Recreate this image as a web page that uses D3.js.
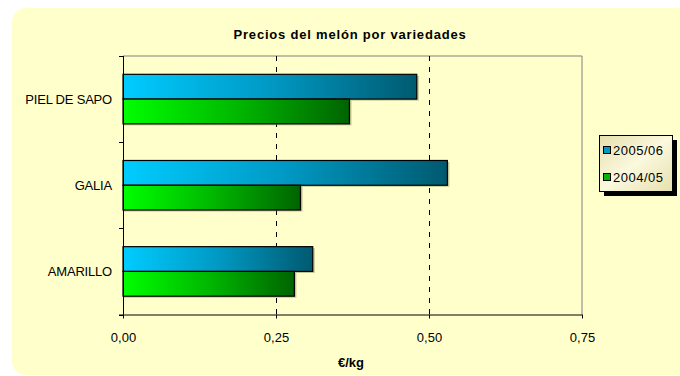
<!DOCTYPE html>
<html>
<head>
<meta charset="utf-8">
<script src="https://cdn.jsdelivr.net/npm/d3@7"></script>
<style>
  html, body { margin: 0; padding: 0; background: #ffffff; }
  svg { display: block; font-family: "Liberation Sans", Arial, sans-serif; }
</style>
</head>
<body>
<svg id="chart" width="680" height="376"></svg>
<script>
// Melon prices by variety, €/kg
const categories = ["PIEL DE SAPO", "GALIA", "AMARILLO"];
const seriesNames = ["2005/06", "2004/05"];
const values2005 = [0.48, 0.53, 0.31];
const values2004 = [0.37, 0.29, 0.28];
const xTicks = [0, 0.25, 0.5, 0.75];
const titleText = "Precios del melón por variedades";
const axisTitle = "€/kg";

const seriesValues = [values2005, values2004];

const svg = d3.select("#chart");
const defs = svg.append("defs");

// gradients per series: bright at base, dark at bar end
const gradStops = [
  ["#00ccff", "#0099c4", "#005a70"],
  ["#00ff00", "#00b800", "#006400"]
];
gradStops.forEach((stops, i) => {
  const g = defs.append("linearGradient")
    .attr("id", "grad" + i)
    .attr("x1", "0%").attr("x2", "100%").attr("y1", "0%").attr("y2", "0%");
  g.append("stop").attr("offset", "0%").attr("stop-color", stops[0]);
  g.append("stop").attr("offset", "50%").attr("stop-color", stops[1]);
  g.append("stop").attr("offset", "100%").attr("stop-color", stops[2]);
});
const lg = defs.append("linearGradient")
  .attr("id", "legendGrad")
  .attr("x1", "0%").attr("x2", "100%").attr("y1", "0%").attr("y2", "100%");
lg.append("stop").attr("offset", "0%").attr("stop-color", "#e6dfae");
lg.append("stop").attr("offset", "50%").attr("stop-color", "#fbf9de");
lg.append("stop").attr("offset", "100%").attr("stop-color", "#e6dfae");

// chart background
svg.append("rect")
  .attr("x", 12).attr("y", 8)
  .attr("width", 690).attr("height", 367)
  .attr("rx", 14).attr("ry", 14)
  .attr("fill", "#ffffcc");

const plot = { left: 123, right: 582, top: 56, bottom: 314.5 };

const x = d3.scaleLinear().domain([0, 0.75]).range([plot.left, plot.right]);
const y = d3.scaleBand().domain(categories).range([plot.top, plot.bottom]).paddingInner(0).paddingOuter(0);
const inner = d3.scaleBand().domain(seriesNames).range([0, y.bandwidth()]).paddingInner(0).paddingOuter(0.74);

// plot frame: grey top/right edges
svg.append("path")
  .attr("d", `M${plot.left},${plot.top}H${plot.right}V${plot.bottom}`)
  .attr("fill", "none").attr("stroke", "#808080").attr("stroke-width", 1);

// dashed vertical gridlines
svg.append("g").selectAll("line")
  .data(xTicks.filter(d => d > 0 && d < 0.75))
  .join("line")
  .attr("x1", d => Math.round(x(d)) + 0.5).attr("x2", d => Math.round(x(d)) + 0.5)
  .attr("y1", plot.top).attr("y2", plot.bottom)
  .attr("stroke", "#000").attr("stroke-width", 1)
  .attr("stroke-dasharray", "5,6");

// bars
const groups = svg.append("g").selectAll("g")
  .data(categories)
  .join("g")
  .attr("transform", d => `translate(0,${y(d)})`);

seriesNames.forEach((s, si) => {
  // soft drop shadow
  groups.append("rect")
    .attr("x", x(0) + 1)
    .attr("y", inner(s) + 1.5)
    .attr("width", (d, i) => x(seriesValues[si][i]) - x(0) + 1)
    .attr("height", inner.bandwidth())
    .attr("fill", "#8a8a50").attr("opacity", 0.5);
  groups.append("rect")
    .attr("x", x(0))
    .attr("y", inner(s))
    .attr("width", (d, i) => x(seriesValues[si][i]) - x(0))
    .attr("height", inner.bandwidth())
    .attr("fill", `url(#grad${si})`)
    .attr("stroke", "#000").attr("stroke-width", 1.2);
});

// x axis
const xAxis = svg.append("g")
  .attr("transform", `translate(0,${plot.bottom})`)
  .call(d3.axisBottom(x).tickValues(xTicks).tickSize(4).tickPadding(14)
    .tickFormat(d => d3.format(".2f")(d).replace(".", ",")));
xAxis.select(".domain").attr("stroke", "#000").attr("d", `M${plot.left - 4},0.5H${plot.right}`);
xAxis.selectAll(".tick line").attr("stroke", "#000");
xAxis.selectAll("text")
  .attr("font-family", "Liberation Sans, Arial, sans-serif")
  .attr("font-size", 13).attr("fill", "#000");

// y axis: ticks at category boundaries
const yAxis = svg.append("g").attr("transform", `translate(${plot.left},0)`);
yAxis.append("line")
  .attr("x1", 0.5).attr("x2", 0.5)
  .attr("y1", plot.top).attr("y2", plot.bottom)
  .attr("stroke", "#000");
const boundaries = categories.map(c => y(c)).concat([plot.bottom]);
yAxis.selectAll("line.tk")
  .data(boundaries)
  .join("line").attr("class", "tk")
  .attr("x1", -4).attr("x2", 0.5)
  .attr("y1", d => Math.round(d) + 0.5).attr("y2", d => Math.round(d) + 0.5)
  .attr("stroke", "#000");
yAxis.selectAll("text")
  .data(categories)
  .join("text")
  .attr("x", -11)
  .attr("y", d => y(d) + y.bandwidth() / 2)
  .attr("dy", "0.35em")
  .attr("text-anchor", "end")
  .attr("font-size", 13)
  .attr("letter-spacing", -0.2)
  .attr("fill", "#000")
  .text(d => d);

// title
svg.append("text")
  .attr("x", 350).attr("y", 39)
  .attr("text-anchor", "middle")
  .attr("font-size", 13).attr("font-weight", "bold")
  .attr("letter-spacing", 0.8)
  .text(titleText);

// axis title
svg.append("text")
  .attr("x", 351).attr("y", 367)
  .attr("text-anchor", "middle")
  .attr("font-size", 13).attr("font-weight", "bold")
  .text(axisTitle);

// legend
const legend = svg.append("g");
legend.append("rect")
  .attr("x", 604).attr("y", 140).attr("width", 73).attr("height", 56)
  .attr("fill", "#000");
legend.append("rect")
  .attr("x", 599.5).attr("y", 135.5).attr("width", 73).attr("height", 56)
  .attr("fill", "url(#legendGrad)").attr("stroke", "#000");
seriesNames.forEach((s, i) => {
  const yy = 146 + i * 27;
  legend.append("rect")
    .attr("x", 603.5).attr("y", yy + 0.5).attr("width", 7).attr("height", 7)
    .attr("fill", gradStops[i][1]).attr("stroke", "#000");
  legend.append("text")
    .attr("x", 613).attr("y", yy + 9)
    .attr("font-size", 13).attr("letter-spacing", 0.5).attr("fill", "#000")
    .text(s);
});
</script>
</body>
</html>
